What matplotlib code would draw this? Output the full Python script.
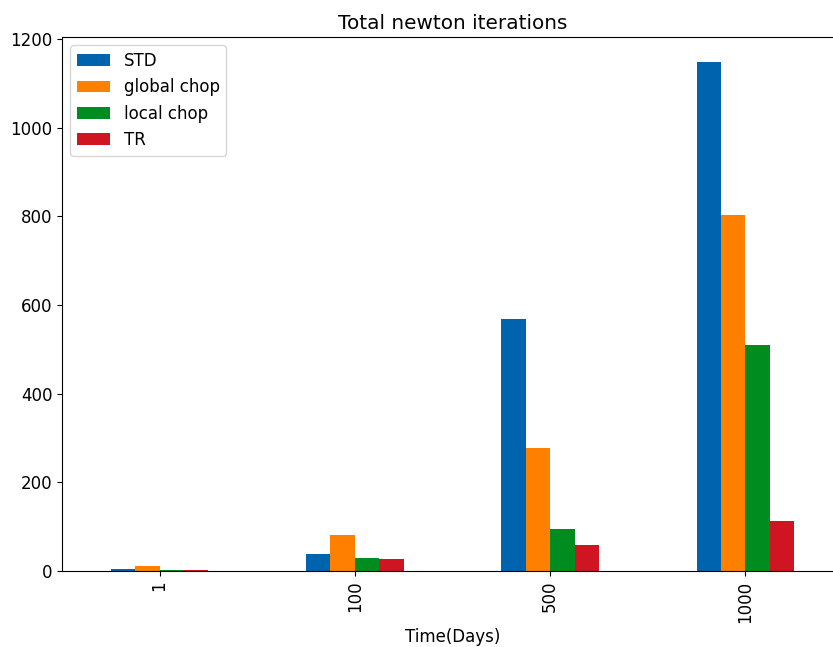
import matplotlib
matplotlib.use("Agg")
import matplotlib.pyplot as plt
import numpy as np

categories = ["1", "100", "500", "1000"]
series_names = ["STD", "global chop", "local chop", "TR"]
std = [4, 38, 568, 1148]
global_chop = [11, 81, 277, 802]
local_chop = [3, 30, 95, 510]
tr = [3, 27, 58, 113]
colors = ["#0063ad", "#ff7f00", "#008c1e", "#cf1422"]

plt.rcParams['font.size'] = 12
fig = plt.figure(figsize=(8.33, 6.47), dpi=100)
ax = fig.add_axes([62/833, (647-571)/647, (843-62)/833, (571-37)/647])

x = np.arange(len(categories))
w = 0.125
for i, (vals, name) in enumerate(zip([std, global_chop, local_chop, tr], series_names)):
    ax.bar(x + (i - 1.5) * w, vals, w, color=colors[i], label=name)

ax.set_xlim(-0.5, len(categories) - 0.5)
ax.set_ylim(0, 1204.5)
ax.set_xticks(x)
ax.set_xticklabels(categories, rotation=90)
ax.set_yticks([0, 200, 400, 600, 800, 1000, 1200])
ax.set_xlabel("Time(Days)")
ax.set_title("Total newton iterations", fontsize=14.4)
ax.spines['right'].set_visible(False)
ax.legend(loc="upper left")

fig.savefig("out.png", dpi=100)
